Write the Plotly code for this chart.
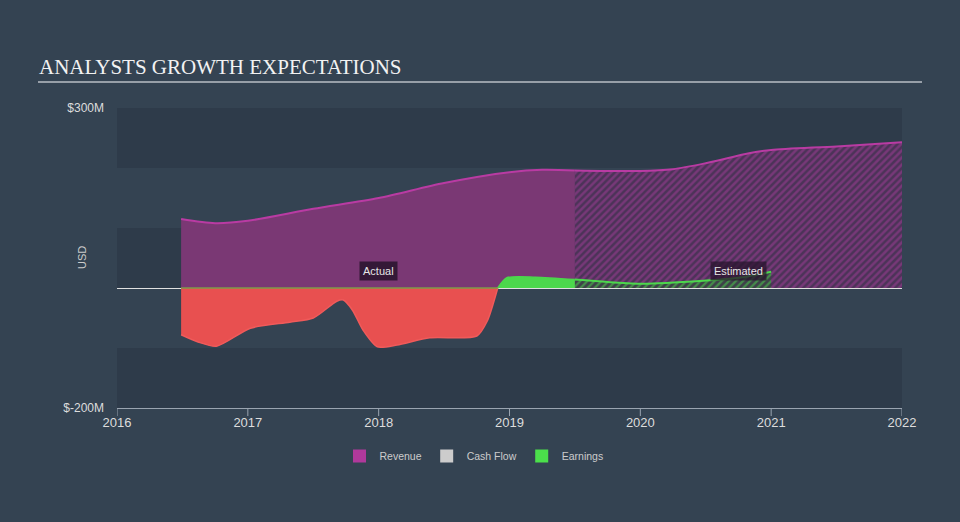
import plotly.graph_objects as go

# ---------------- data (USD millions, decimal years) ----------------
rev_act_x = [2016.49, 2016.75, 2017.0, 2017.5, 2018.0, 2018.5, 2019.0, 2019.25, 2019.5]
rev_act_y = [115, 108, 112, 132, 150, 175, 193, 197, 196]

rev_est_x = [2019.5, 2020.0, 2020.25, 2020.5, 2020.84, 2021.0, 2021.5, 2022.0]
rev_est_y = [196, 195, 198, 208, 225, 230, 236, 243]

earn_act_x = [2016.49, 2016.62, 2016.76, 2017.02, 2017.32, 2017.5, 2017.68, 2017.73,
              2017.8, 2017.88, 2017.99, 2018.14, 2018.39, 2018.75, 2018.83, 2018.91,
              2018.98, 2019.2, 2019.5]
earn_act_y = [-78, -90, -97, -67, -57, -50, -22, -20, -37, -70, -98, -95, -83, -80,
              -55, 0, 17, 18, 14]

earn_est_x = [2019.5, 2019.75, 2020.02, 2020.48, 2020.75, 2021.0]
earn_est_y = [14, 10, 7, 12, 17, 27]

year_ticks = [2016, 2017, 2018, 2019, 2020, 2021, 2022]
y_tick_vals = [300, -200]
y_tick_text = ["$300M", "$-200M"]
band_edges = [(200, 300), (0, 100), (-200, -100)]

# ---------------- styles ----------------
BG = "#344352"
BAND = "#2E3B4A"
REV_LINE = "#B93BA3"
REV_FILL = "#7A3874"
RED_FILL = "#E85050"
RED_LINE = "#F05A5A"
GREEN = "#4CD74C"
AXIS = "#9AA4B0"
FONT = "Liberation Sans"

L, R, T, B = 117, 58, 108, 114
W, H = 960, 522
pw, ph = W - L - R, H - T - B


def px_x(p):
    return (p - L) / pw


def px_y(p):
    return (H - B - p) / ph


fig = go.Figure()

# split earnings actual at the zero crossing
zi = earn_act_y.index(0)
neg_x, neg_y = earn_act_x[:zi + 1], earn_act_y[:zi + 1]
pos_x, pos_y = earn_act_x[zi:], earn_act_y[zi:]

# revenue actual
fig.add_trace(go.Scatter(x=rev_act_x, y=rev_act_y, mode="lines", fill="tozeroy",
                         fillcolor=REV_FILL, line=dict(color=REV_LINE, width=2, shape="spline", smoothing=0.8),
                         showlegend=False, hoverinfo="skip"))
# revenue estimate (hatched)
fig.add_trace(go.Scatter(x=rev_est_x, y=rev_est_y, mode="lines", fill="tozeroy",
                         fillpattern=dict(shape="/", fgcolor="#A23E98", bgcolor="#4C3358",
                                          size=5, solidity=0.5),
                         line=dict(color=REV_LINE, width=2, shape="spline", smoothing=0.8),
                         showlegend=False, hoverinfo="skip"))
# earnings negative
fig.add_trace(go.Scatter(x=neg_x, y=neg_y, mode="lines", fill="tozeroy",
                         fillcolor=RED_FILL, line=dict(color=RED_LINE, width=1.5, shape="spline", smoothing=0.7),
                         showlegend=False, hoverinfo="skip"))
# thin line at zero along actual earnings span
fig.add_trace(go.Scatter(x=[neg_x[0], neg_x[-1]], y=[0, 0], mode="lines",
                         line=dict(color="#7E9A4A", width=1.5),
                         showlegend=False, hoverinfo="skip"))
# earnings positive actual
fig.add_trace(go.Scatter(x=pos_x, y=pos_y, mode="lines", fill="tozeroy",
                         fillcolor=GREEN, line=dict(color=GREEN, width=1.5, shape="spline", smoothing=0.7),
                         showlegend=False, hoverinfo="skip"))
# earnings estimate (hatched)
fig.add_trace(go.Scatter(x=earn_est_x, y=earn_est_y, mode="lines", fill="tozeroy",
                         fillpattern=dict(shape="/", fgcolor=GREEN, bgcolor="#3E4048",
                                          size=5, solidity=0.45),
                         line=dict(color=GREEN, width=2, shape="spline", smoothing=0.8),
                         showlegend=False, hoverinfo="skip"))

# legend dummies
for name, col in [("Revenue", "#B0399B"), ("Cash Flow", "#CCCCCC"), ("Earnings", "#4BE04B")]:
    fig.add_trace(go.Scatter(x=[None], y=[None], mode="markers", name=name,
                             marker=dict(symbol="square", size=13, color=col)))

shapes = []
for lo, hi in band_edges:
    shapes.append(dict(type="rect", xref="paper", yref="y", x0=0, x1=1, y0=lo, y1=hi,
                       fillcolor=BAND, line=dict(width=0), layer="below"))
# x ticks (drawn downward from the axis line)
for yr in year_ticks:
    shapes.append(dict(type="line", xref="x", yref="paper", x0=yr, x1=yr,
                       y0=0, y1=px_y(416), line=dict(color=AXIS, width=1)))
# title underline
shapes.append(dict(type="line", xref="paper", yref="paper", x0=px_x(38), x1=px_x(922),
                   y0=px_y(82), y1=px_y(82), line=dict(color="#B8BEC6", width=1.5)))

annotations = [
    dict(text="ANALYSTS GROWTH EXPECTATIONS", xref="paper", yref="paper",
         x=px_x(37), y=px_y(67), xanchor="left", yanchor="middle", showarrow=False,
         font=dict(family="Liberation Serif", size=21, color="#F2F2F2")),
    dict(text="USD", xref="paper", yref="paper", x=px_x(82), y=px_y(258),
         xanchor="center", yanchor="middle", textangle=-90, showarrow=False,
         font=dict(family=FONT, size=11, color="#CCCCCC")),
    dict(text="Actual", x=2018.0, y=28, xref="x", yref="y", showarrow=False,
         bgcolor="rgba(40,20,45,0.85)", borderpad=3,
         font=dict(family=FONT, size=11, color="#E6E6E6")),
    dict(text="Estimated", x=2020.75, y=28, xref="x", yref="y", showarrow=False,
         bgcolor="rgba(40,20,45,0.75)", borderpad=3,
         font=dict(family=FONT, size=11, color="#E6E6E6")),
]

fig.update_layout(
    width=W, height=H,
    margin=dict(l=L, r=R, t=T, b=B),
    paper_bgcolor=BG, plot_bgcolor=BG,
    font=dict(family=FONT, color="#DDDDDD"),
    shapes=shapes, annotations=annotations,
    legend=dict(orientation="h", x=px_x(474), xanchor="center", y=px_y(456), yanchor="middle",
                font=dict(size=10.5, color="#CCCCCC"), bgcolor="rgba(0,0,0,0)",
                itemwidth=30, tracegroupgap=0),
    xaxis=dict(range=[2016, 2022], tickvals=year_ticks, ticktext=[str(v) for v in year_ticks],
               showgrid=False, zeroline=False, showline=True, linecolor=AXIS, linewidth=1,
               ticks="", ticklabelstandoff=2,
               tickfont=dict(size=13, color="#DDDDDD")),
    yaxis=dict(range=[-200, 300], tickvals=y_tick_vals, ticktext=y_tick_text,
               showgrid=False, zeroline=True, zerolinecolor="#E0E0E0", zerolinewidth=1,
               showline=False, ticks="", ticklabelstandoff=12,
               tickfont=dict(size=12, color="#DDDDDD")),
    hovermode=False,
)

fig.write_html("out.html")
